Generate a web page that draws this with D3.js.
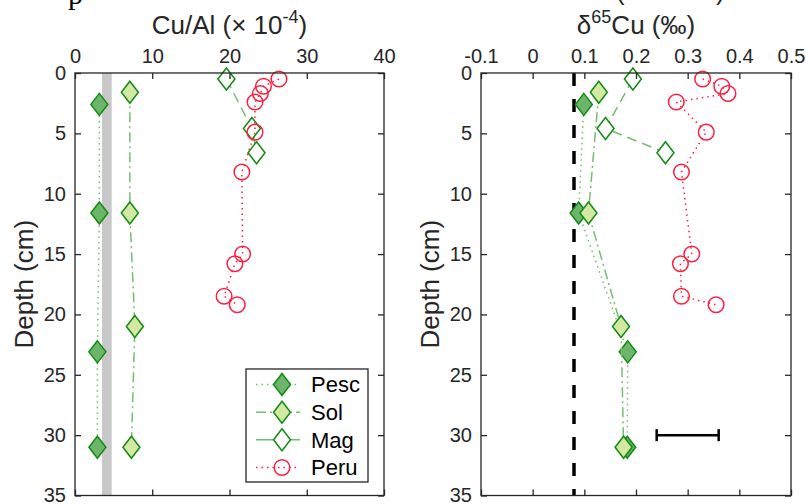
<!DOCTYPE html>
<html>
<head>
<meta charset="utf-8">
<script src="https://cdn.jsdelivr.net/npm/d3@7"></script>
<style>
  body { margin: 0; background: #fff; }
  svg { font-family: "Liberation Sans", Arial, sans-serif; }
</style>
</head>
<body>
<div id="chart"></div>
<script>
// depths (cm)
const pescDepth = [2.6, 11.6, 23.1, 31.0];
const solDepth = [1.6, 11.6, 21.0, 31.0];
const magDepth = [0.5, 4.6, 6.6];
const peruDepth = [0.5, 1.1, 1.7, 2.4, 4.9, 8.2, 15.0, 15.8, 18.5, 19.2];

// Cu/Al (x 1e-4)
const pescCuAl = [3.15, 3.15, 2.9, 2.9];
const solCuAl = [7.1, 7.1, 7.75, 7.3];
const magCuAl = [19.6, 22.9, 23.5];
const peruCuAl = [26.4, 24.4, 24.0, 23.3, 23.3, 21.6, 21.7, 20.7, 19.3, 21.0];

// d65Cu (permil)
const pescD65 = [0.099, 0.089, 0.184, 0.183];
const solD65 = [0.128, 0.108, 0.171, 0.176];
const magD65 = [0.194, 0.141, 0.257];
const peruD65 = [0.329, 0.366, 0.378, 0.278, 0.336, 0.288, 0.308, 0.286, 0.288, 0.355];

const seriesNames = ['Pesc', 'Sol', 'Mag', 'Peru'];
const cuAlTicks = [0, 10, 20, 30, 40];
const d65Ticks = [-0.1, 0, 0.1, 0.2, 0.3, 0.4, 0.5];
const depthTicks = [0, 5, 10, 15, 20, 25, 30, 35];

const crustBand = [3.5, 4.75];     // grey band, Cu/Al
const crustD65 = 0.08;             // dashed reference line
const errCenter = 0.30, errHalf = 0.06, errDepth = 30;

const W = 806, H = 504;
const ink = '#262626';
const lineGreen = '#74be74';
const darkGreen = '#128a12';
const red = '#ff1f40';

const styles = {
    Pesc: {shape: 'diamond', fill: '#6cb66c', stroke: darkGreen, line: lineGreen, dash: '1.5,4', legDash: '1.5,4'},
    Sol: {shape: 'diamond', fill: '#d3e8a2', stroke: darkGreen, line: lineGreen, dash: '10,4,2,4', legDash: '10,4,2,4'},
    Mag: {shape: 'diamond', fill: '#ffffff', stroke: darkGreen, line: lineGreen, dash: '10,6', legDash: null},
    Peru: {shape: 'circle', fill: 'none', stroke: red, line: red, dash: '1.5,4', legDash: '1.5,4'}
};

const svg = d3.select('#chart').append('svg')
    .attr('width', W).attr('height', H);

// cut off text from above
svg.append('text').attr('x', 68).attr('y', 4)
    .style('font-family', '"Liberation Serif", "Times New Roman", serif')
    .style('font-size', '30px').attr('fill', '#000').text('p');
svg.append('text').attr('x', 616).attr('y', 0)
    .style('font-size', '26px').attr('fill', ink).text('(');
svg.append('text').attr('x', 716).attr('y', 0)
    .style('font-size', '26px').attr('fill', ink).text(')');

const y = d3.scaleLinear().domain([0, 35]).range([73, 495.5]);

function diamondPath(cx, cy) {
    const hw = 8.5, hh = 11;
    return `M${cx},${cy - hh}L${cx + hw},${cy}L${cx},${cy + hh}L${cx - hw},${cy}Z`;
}

function drawMarker(g, cx, cy, st) {
    if (st.shape === 'circle') {
        g.append('circle').attr('cx', cx).attr('cy', cy).attr('r', 7.8)
            .attr('fill', 'none').attr('stroke', st.stroke).attr('stroke-width', 1.5);
    } else {
        g.append('path').attr('d', diamondPath(cx, cy))
            .attr('fill', st.fill).attr('stroke', st.stroke).attr('stroke-width', 1.5);
    }
}

function panel(opts) {
    const x = d3.scaleLinear().domain(opts.domain).range(opts.range);
    const g = svg.append('g');
    const [x0, x1] = opts.range;
    const [y0, y1] = y.range();

    opts.under(g, x);

    // series
    opts.series.forEach(s => {
        const st = styles[s.name];
        const pts = s.depth.map((d, i) => [x(s.vals[i]), y(d)]);
        g.append('path').attr('d', d3.line()(pts))
            .attr('fill', 'none').attr('stroke', st.line).attr('stroke-width', 1.5)
            .attr('stroke-dasharray', st.dash);
        const mg = g.append('g');
        pts.forEach(p => drawMarker(mg, p[0], p[1], st));
    });

    // frame
    g.append('rect').attr('x', x0).attr('y', y0)
        .attr('width', x1 - x0).attr('height', y1 - y0)
        .attr('fill', 'none').attr('stroke', ink).attr('stroke-width', 1.3);

    const axTop = g.append('g').attr('transform', `translate(0,${y0})`)
        .call(d3.axisTop(x).tickValues(opts.ticks).tickSize(-6).tickSizeOuter(0)
            .tickPadding(10).tickFormat(opts.fmt));
    const axBot = g.append('g').attr('transform', `translate(0,${y1})`)
        .call(d3.axisBottom(x).tickValues(opts.ticks).tickSize(-6).tickSizeOuter(0)
            .tickFormat(''));
    const axL = g.append('g').attr('transform', `translate(${x0},0)`)
        .call(d3.axisLeft(y).tickValues(depthTicks).tickSize(-6).tickSizeOuter(0)
            .tickPadding(9));
    const axR = g.append('g').attr('transform', `translate(${x1},0)`)
        .call(d3.axisRight(y).tickValues(depthTicks).tickSize(-6).tickSizeOuter(0)
            .tickFormat(''));
    [axTop, axBot, axL, axR].forEach(a => {
        a.select('.domain').remove();
        a.selectAll('line').attr('stroke', ink).attr('stroke-width', 1.3);
        a.selectAll('text').attr('fill', ink).style('font-size', '20px')
            .style('font-family', '"Liberation Sans", Arial, sans-serif');
    });

    // titles
    const cx = (x0 + x1) / 2;
    const t = g.append('text').attr('x', cx).attr('y', 34)
        .attr('text-anchor', 'middle').attr('fill', ink).style('font-size', '26px');
    opts.title(t);

    g.append('text')
        .attr('transform', `translate(${x0 - 42},${(y0 + y1) / 2}) rotate(-90)`)
        .attr('text-anchor', 'middle').attr('fill', ink).style('font-size', '26px')
        .text('Depth (cm)');

    opts.over(g, x);
}

// left: Cu/Al
panel({
    domain: [0, 40], range: [75, 384], ticks: cuAlTicks, fmt: d3.format('d'),
    series: [
        {name: 'Pesc', depth: pescDepth, vals: pescCuAl},
        {name: 'Sol', depth: solDepth, vals: solCuAl},
        {name: 'Mag', depth: magDepth, vals: magCuAl},
        {name: 'Peru', depth: peruDepth, vals: peruCuAl}
    ],
    under: (g, x) => {
        g.append('rect').attr('x', x(crustBand[0])).attr('y', y(0))
            .attr('width', x(crustBand[1]) - x(crustBand[0]))
            .attr('height', y(35) - y(0)).attr('fill', '#c8c8c8');
    },
    title: t => {
        t.append('tspan').text('Cu/Al (\u00d7 10');
        t.append('tspan').attr('dy', -11).style('font-size', '18px').text('-4');
        t.append('tspan').attr('dy', 11).text(')');
    },
    over: (g, x) => {
        // legend
        const lx = 246, ly = 369, lw = 122, lh = 113;
        const lg = g.append('g');
        lg.append('rect').attr('x', lx).attr('y', ly).attr('width', lw).attr('height', lh)
            .attr('fill', '#fff').attr('stroke', ink).attr('stroke-width', 1.3);
        const rowY = d3.scalePoint().domain(seriesNames).range([384.5, 467.5]);
        seriesNames.forEach(n => {
            const st = styles[n];
            const ry = rowY(n);
            lg.append('line').attr('x1', 256).attr('x2', 300).attr('y1', ry).attr('y2', ry)
                .attr('stroke', st.line).attr('stroke-width', 1.5)
                .attr('stroke-dasharray', st.legDash);
            drawMarker(lg, 282, ry, st);
            lg.append('text').attr('x', 311).attr('y', ry).attr('dy', '0.36em')
                .attr('fill', '#000').style('font-size', '22px').text(n);
        });
    }
});

// right: d65Cu
panel({
    domain: [-0.1, 0.5], range: [481, 791], ticks: d65Ticks,
    fmt: d => d === 0 ? '0' : d3.format('.1f')(d).replace('\u2212', '-'),
    series: [
        {name: 'Pesc', depth: pescDepth, vals: pescD65},
        {name: 'Sol', depth: solDepth, vals: solD65},
        {name: 'Mag', depth: magDepth, vals: magD65},
        {name: 'Peru', depth: peruDepth, vals: peruD65}
    ],
    under: (g, x) => {
        g.append('line').attr('x1', x(crustD65)).attr('x2', x(crustD65))
            .attr('y1', y(0)).attr('y2', y(35))
            .attr('stroke', '#000').attr('stroke-width', 3.5)
            .attr('stroke-dasharray', '13,13');
    },
    title: t => {
        t.append('tspan').text('\u03b4');
        t.append('tspan').attr('dy', -11).style('font-size', '18px').text('65');
        t.append('tspan').attr('dy', 11).text('Cu (\u2030)');
    },
    over: (g, x) => {
        const ey = y(errDepth);
        const xa = x(errCenter - errHalf), xb = x(errCenter + errHalf);
        g.append('line').attr('x1', xa).attr('x2', xb).attr('y1', ey).attr('y2', ey)
            .attr('stroke', '#000').attr('stroke-width', 2.5);
        [xa, xb].forEach(xx => g.append('line').attr('x1', xx).attr('x2', xx)
            .attr('y1', ey - 6).attr('y2', ey + 6)
            .attr('stroke', '#000').attr('stroke-width', 2.5));
    }
});
</script>
</body>
</html>
